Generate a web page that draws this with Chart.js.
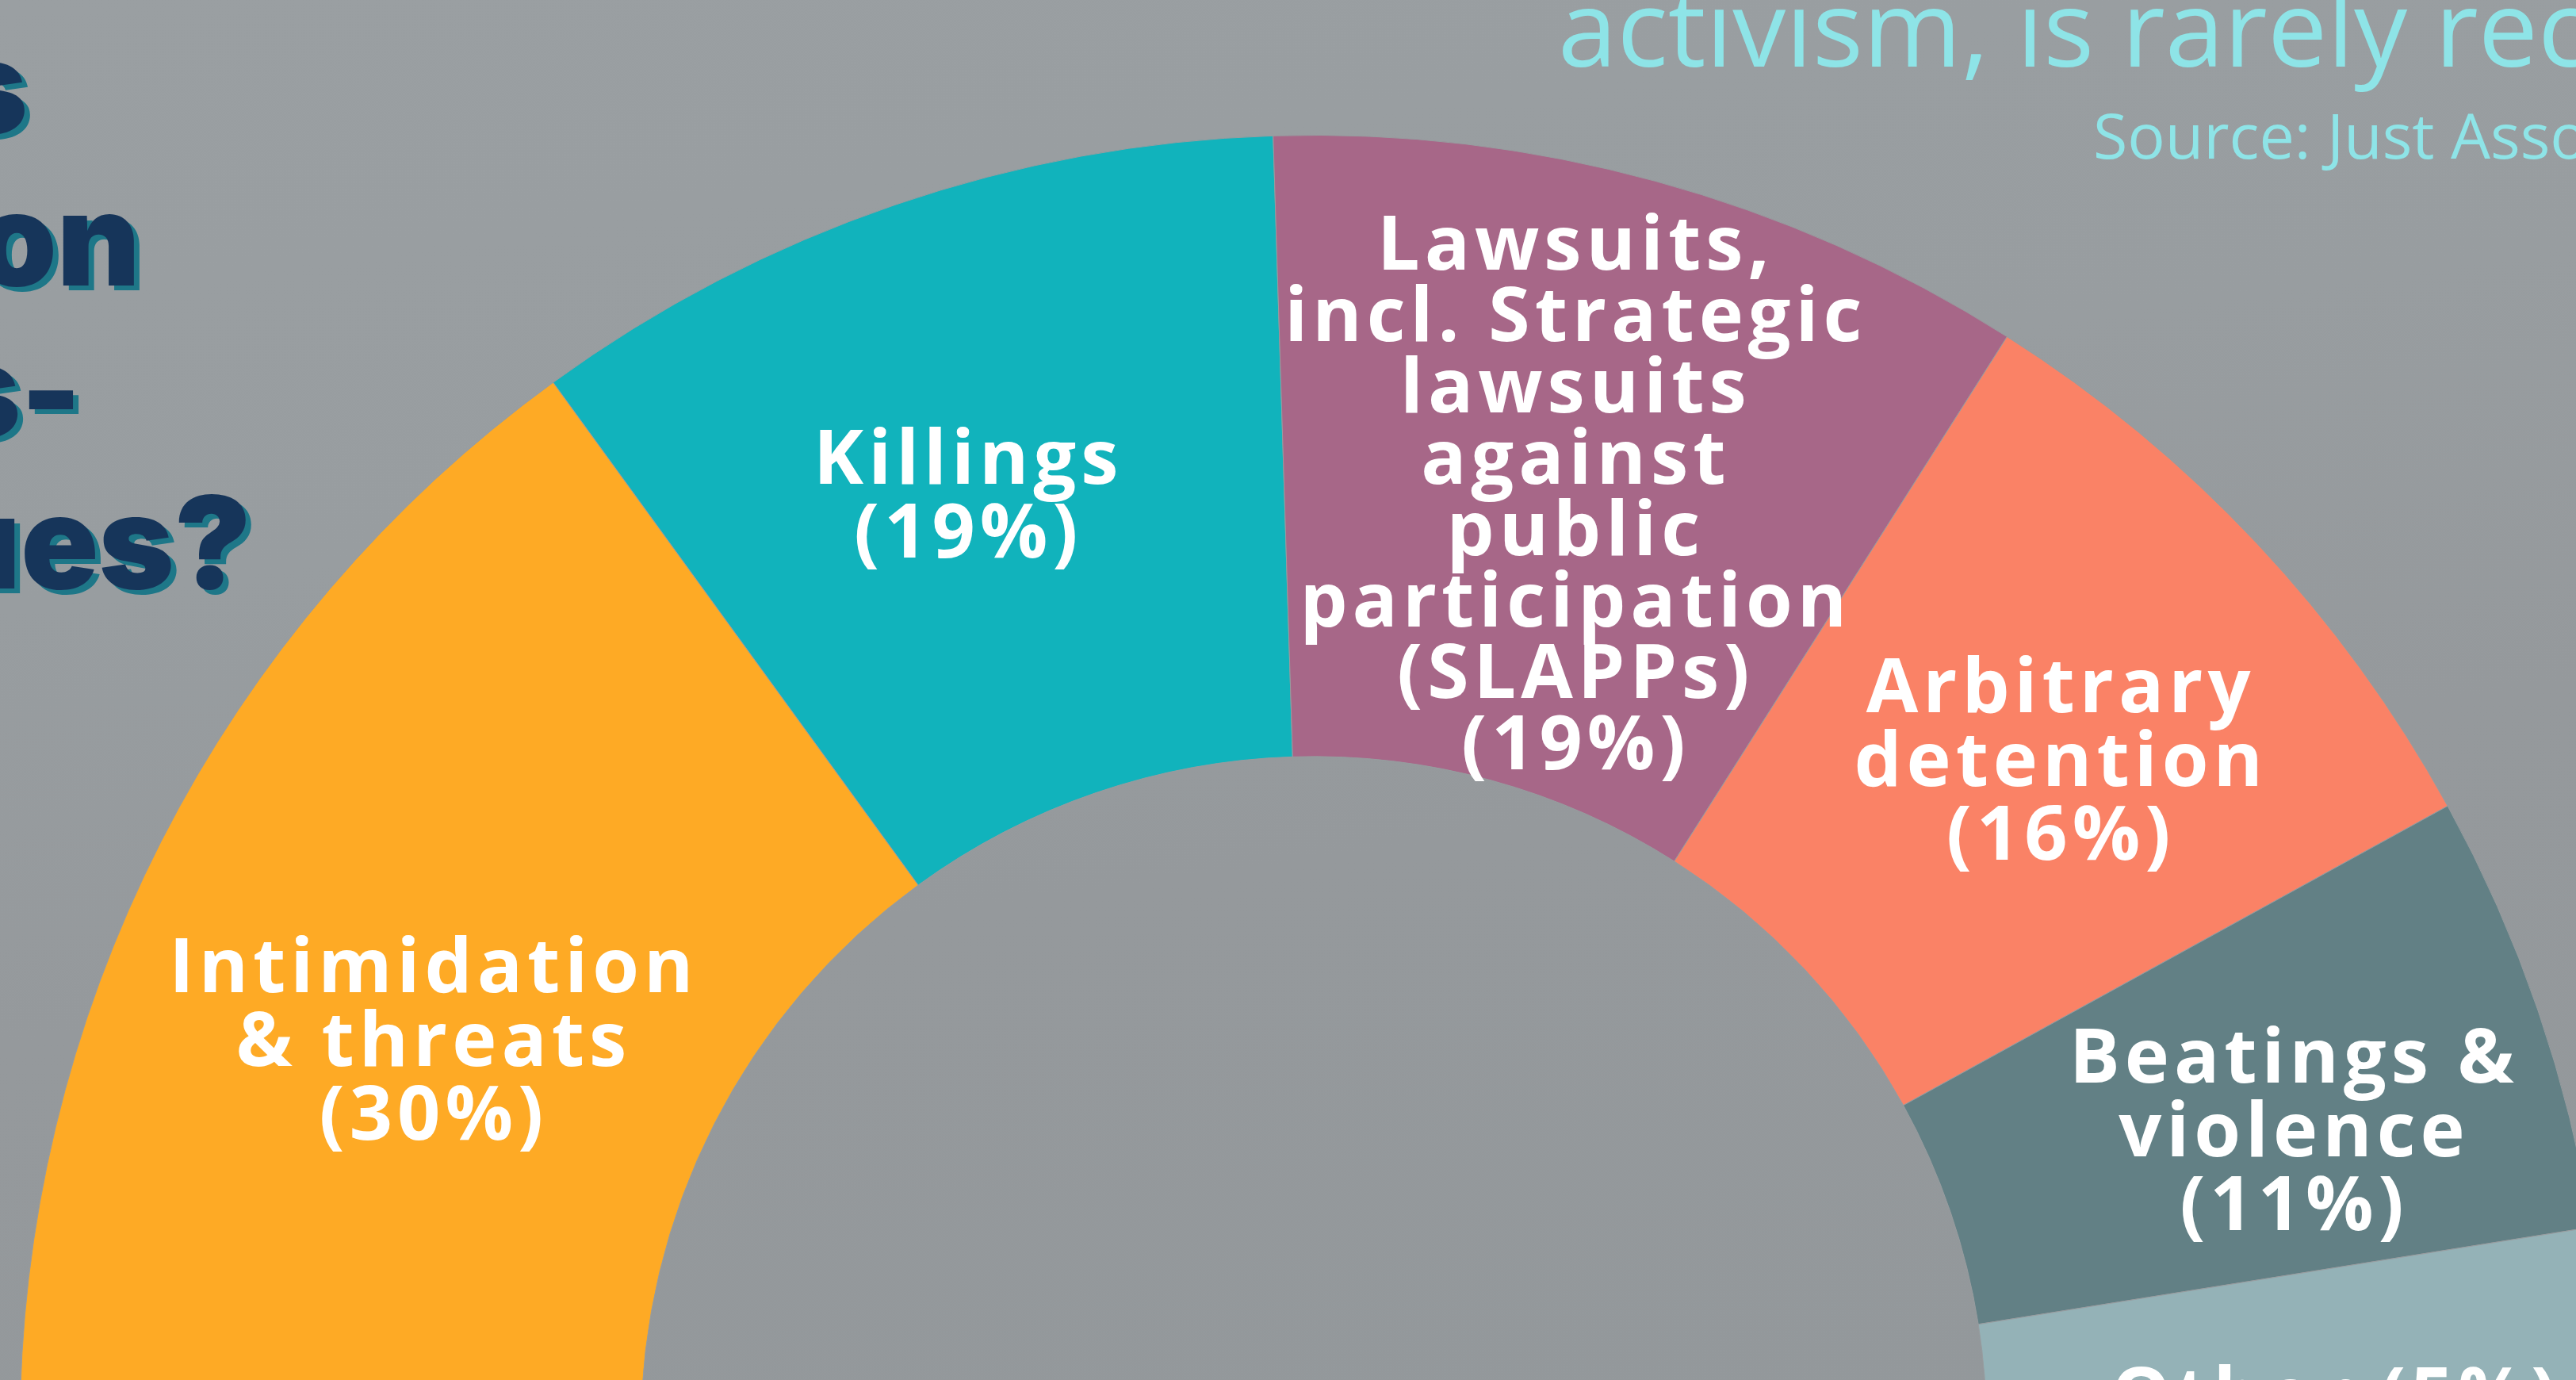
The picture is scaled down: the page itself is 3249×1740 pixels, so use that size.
<!DOCTYPE html>
<html>
<head>
<meta charset="utf-8">
<title>Attacks on defenders</title>
<script src="https://cdn.jsdelivr.net/npm/chart.js@4.4.1/dist/chart.umd.min.js"></script>
<style>
  html, body { margin: 0; padding: 0; }
  body {
    width: 3249px; height: 1740px; overflow: hidden; position: relative;
    background: linear-gradient(172deg, #9a9fa2 0%, #989da0 35%, #95999c 60%, #93989b 100%);
  }
  #chartBox { position: absolute; left: 24px; top: 170px; }
  #texts { position: absolute; left: 0; top: 0; }
  .q { font-family: Inter, sans-serif; font-weight: 900; font-size: 162px; fill: #16355a; }
  .qs { font-family: Inter, sans-serif; font-weight: 900; font-size: 162px; fill: #1e7788; }
  .sub { font-family: "Open Sans", sans-serif; font-weight: 400; fill: #8ee4e7; }
</style>
</head>
<body>
<div id="chartBox"><canvas id="pie" width="3266" height="1633"></canvas></div>

<svg id="texts" width="3249" height="1740">
  <!-- cut-off question on the left: shadow first, then the text -->
  <g>
    <text class="qs" x="42" y="174" text-anchor="end">s</text>
    <text class="q" x="35" y="168" text-anchor="end">s</text>
    <text class="qs" x="184" y="366" text-anchor="end">on</text>
    <text class="q" x="177" y="360" text-anchor="end">on</text>
    <text class="qs" x="110" y="557" text-anchor="end">s-</text>
    <text class="q" x="103" y="551" text-anchor="end">s-</text>
    <text class="qs" x="324" y="748" text-anchor="end">ues?</text>
    <text class="q" x="317" y="742" text-anchor="end">ues?</text>
  </g>
  <text class="sub" x="1965" y="84" font-size="134">activism, is rarely rec</text>
  <text class="sub" x="2640" y="200" font-size="79">Source: Just Asso</text>
</svg>

<script>
// data
const categories = [
  'Intimidation & threats',
  'Killings',
  'Lawsuits, incl. Strategic lawsuits against public participation (SLAPPs)',
  'Arbitrary detention',
  'Beatings & violence',
  'Other'
];
const shares = [30, 19, 19, 16, 11, 5];
// how each label is broken into lines, {p} is the share
const labelLines = [
  ['Intimidation', '& threats', '({p}%)'],
  ['Killings', '({p}%)'],
  ['Lawsuits,', 'incl. Strategic', 'lawsuits', 'against', 'public', 'participation', '(SLAPPs)', '({p}%)'],
  ['Arbitrary', 'detention', '({p}%)'],
  ['Beatings &', 'violence', '({p}%)'],
  ['Other ({p}%)']
];
const colors = ['#feaa25', '#11b3bc', '#a76788', '#fa8266', '#628085', '#94b2b7'];

// labels sit at the slice centre, then get nudged a little like in the original layout
const sliceLabels = {
  id: 'sliceLabels',
  afterDatasetsDraw(chart, args, opts) {
    const ctx = chart.ctx;
    const meta = chart.getDatasetMeta(0);
    ctx.save();
    ctx.fillStyle = '#ffffff';
    ctx.font = opts.font;
    ctx.letterSpacing = opts.spacing;
    ctx.textAlign = 'center';
    ctx.textBaseline = 'middle';
    meta.data.forEach((arc, i) => {
      const p = arc.tooltipPosition();
      const n = opts.nudge[i] || [0, 0];
      const lines = labelLines[i].map(s => s.replace('{p}', shares[i]));
      const lh = lines.length > 5 ? opts.lineHeight - 3 : opts.lineHeight;
      const y0 = p.y + n[1] - (lines.length - 1) * lh / 2;
      lines.forEach((txt, j) => ctx.fillText(txt, p.x + n[0] + 3, y0 + j * lh));
    });
    ctx.restore();
  }
};

const canvas = document.getElementById('pie');
new Chart(canvas, {
  type: 'doughnut',
  data: {
    labels: categories,
    datasets: [{
      data: shares,
      backgroundColor: colors,
      borderColor: '#979c9f',
      borderWidth: 1
    }]
  },
  options: {
    responsive: false,
    animation: false,
    rotation: -90,
    circumference: 180,
    cutout: '52%',
    layout: { padding: 0 },
    plugins: {
      legend: { display: false },
      tooltip: { enabled: false },
      sliceLabels: {
        font: '700 95px "Open Sans"',
        spacing: '6px',
        lineHeight: 93,
        nudge: [[-8, 78], [-37, 0], [0, 22], [35, 10], [60, 30], [50, 60]]
      }
    }
  },
  plugins: [sliceLabels]
});
</script>
</body>
</html>
